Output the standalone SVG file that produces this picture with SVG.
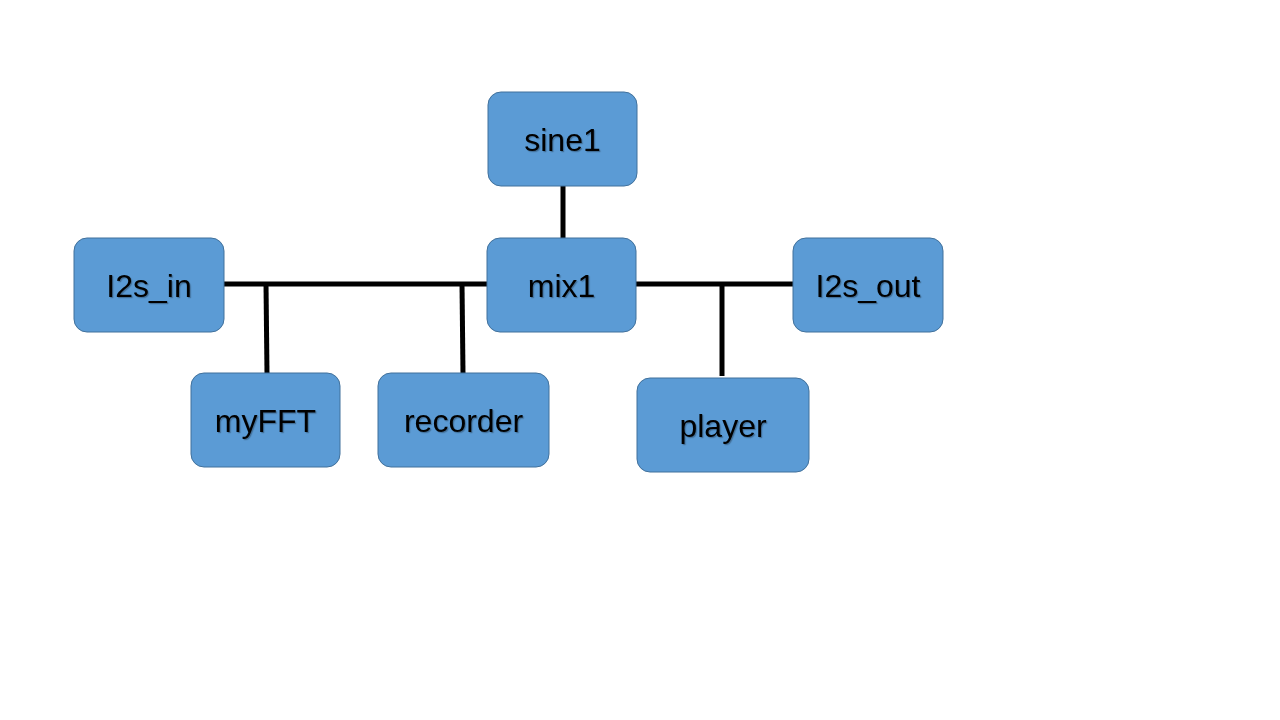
<svg xmlns="http://www.w3.org/2000/svg" width="1280" height="720" viewBox="0 0 1280 720">
<defs>
<filter id="ts" x="-10%" y="-20%" width="130%" height="150%">
<feDropShadow dx="1.2" dy="1.2" stdDeviation="0.7" flood-color="#000" flood-opacity="0.28"/>
</filter>
</defs>
<style>
.box{fill:#5B9BD5;stroke:#41719C;stroke-width:1}
.lbl{font-family:"Liberation Sans",Arial,sans-serif;font-size:32px;fill:#000;text-anchor:middle;filter:url(#ts)}
.conn{stroke:#000;stroke-width:5;fill:none}
</style>
<rect width="1280" height="720" fill="#fff"/>
<g id="connectors">
<line class="conn" x1="563" y1="186" x2="563" y2="238"/>
<line class="conn" x1="224" y1="284" x2="487" y2="284"/>
<line class="conn" x1="266" y1="284" x2="267" y2="374"/>
<line class="conn" x1="462" y1="284" x2="463" y2="374"/>
<line class="conn" x1="636" y1="284" x2="793" y2="284"/>
<line class="conn" x1="722" y1="284" x2="722" y2="376"/>
</g>
<g id="sine1"><rect class="box" x="488" y="92" width="149" height="94" rx="13"/><text class="lbl" x="562.5" y="151">sine1</text></g>
<g id="I2s_in"><rect class="box" x="74" y="238" width="150" height="94" rx="13"/><text class="lbl" x="149" y="297">I2s_in</text></g>
<g id="mix1"><rect class="box" x="487" y="238" width="149" height="94" rx="13"/><text class="lbl" x="561.5" y="297">mix1</text></g>
<g id="I2s_out"><rect class="box" x="793" y="238" width="150" height="94" rx="13"/><text class="lbl" x="868" y="297">I2s_out</text></g>
<g id="myFFT"><rect class="box" x="191" y="373" width="149" height="94" rx="13"/><text class="lbl" x="265.5" y="432">myFFT</text></g>
<g id="recorder"><rect class="box" x="378" y="373" width="171" height="94" rx="13"/><text class="lbl" x="463.5" y="432">recorder</text></g>
<g id="player"><rect class="box" x="637" y="378" width="172" height="94" rx="13"/><text class="lbl" x="723" y="437">player</text></g>
</svg>
